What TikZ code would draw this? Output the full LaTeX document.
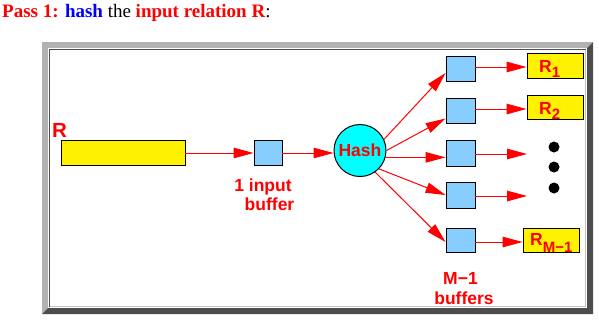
\documentclass[tikz,border=0pt]{standalone}
\usepackage{fontspec}
\setmainfont{Liberation Serif}
\setsansfont{Liberation Sans}
\usetikzlibrary{arrows.meta,calc}
\definecolor{bufblue}{RGB}{135,206,255}
\definecolor{hashcyan}{RGB}{0,255,255}
\definecolor{lgray}{RGB}{178,178,178}
\definecolor{dgray}{RGB}{77,77,77}
\tikzset{
  arr/.style={-{Triangle[length=20pt,width=10.5pt]}, red, line width=1pt},
  buf/.style={draw=black, line width=0.9pt, fill=bufblue, minimum width=29pt, minimum height=25pt, inner sep=0pt},
  outbox/.style={draw=black, line width=0.9pt, fill=yellow, minimum width=56pt, minimum height=25pt, inner sep=0pt},
  lbl/.style={text=red, font=\sffamily\bfseries\fontsize{17.5}{19}\selectfont, inner sep=0pt},
  dot/.style={circle, fill=black, minimum size=11pt, inner sep=0pt}
}
\begin{document}
\begin{tikzpicture}[x=1pt,y=-1pt]
\useasboundingbox (0,0) rectangle (599,322);
% title
\node[anchor=base west, inner sep=0pt, font=\fontsize{19}{21}\selectfont] (title) at (2,17)
  {\textcolor{red}{\textbf{Pass 1:}} \textcolor{blue}{\textbf{hash}} the \textcolor{red}{\textbf{input relation R}}:};
% frame
\fill[lgray] (42,42) -- (593,42) -- (587,48) -- (48,48) -- (48,308) -- (42,314) -- cycle;
\fill[dgray] (593,42) -- (593,314) -- (42,314) -- (48,308) -- (587,308) -- (587,48) -- cycle;
\fill[white] (48,48) rectangle (587,308);
\draw[dgray, line width=1pt] (49.5,306.5) -- (49.5,49.5) -- (585.5,49.5);
\draw[lgray!80, line width=1pt] (585.5,49.5) -- (585.5,306.5) -- (49.5,306.5);
% relation R
\node[lbl, font=\sffamily\bfseries\fontsize{20.5}{22}\selectfont, anchor=base west] (Rlab) at (52,137) {R};
\node[draw=black, line width=0.9pt, fill=yellow, minimum width=124pt, minimum height=25pt, inner sep=0pt] (rel) at (123,153) {};
\node[buf, minimum width=28pt] (inbuf) at (268,153) {};
\node[circle, draw=black, line width=1pt, fill=hashcyan, minimum size=52pt, inner sep=0pt, text=red, font=\sffamily\bfseries\fontsize{17.5}{19}\selectfont] (hash) at (360,150.5) {Hash};
% output buffers
\node[buf] (b1) at (460.5,69) {};
\node[buf] (b2) at (460.5,110.5) {};
\node[buf, minimum height=26pt] (b3) at (460.5,153) {};
\node[buf, minimum height=26pt] (b4) at (460.5,195) {};
\node[buf, minimum height=24pt] (b5) at (460.5,240) {};
% output partitions
\node[outbox] (r1) at (555,65.5) {};
\node[outbox, minimum height=24pt] (r2) at (555,107) {};
\node[outbox, minimum height=24pt] (rm) at (551,240) {};
\node[lbl, anchor=base west] (r1t) at (539,72) {R\raisebox{-5pt}{\fontsize{15}{15}\selectfont 1}};
\node[lbl, anchor=base west] (r2t) at (539,114) {R\raisebox{-5pt}{\fontsize{15}{15}\selectfont 2}};
\node[lbl, anchor=base west] (rmt) at (530,245) {R\raisebox{-7pt}{\fontsize{15}{15}\selectfont M{\char"2212}1}};
% dots
\node[dot] (d1) at (554,147) {};
\node[dot] (d2) at (554,167) {};
\node[dot] (d3) at (554,188) {};
\coordinate (e3) at (527,154);
\coordinate (e4) at (527,196);
% labels
\node[lbl, anchor=base] (l1) at (263,191) {1 input};
\node[lbl, anchor=base] (l2) at (269.5,210) {buffer};
\node[lbl, anchor=base] (l3) at (460.5,284) {M{\char"2212}1};
\node[lbl, anchor=base] (l4) at (464,304) {buffers};
% arrows
\draw[arr] (rel.east) -- (inbuf.west);
\draw[arr] (inbuf.east) -- (inbuf.east -| hash.west);
\draw[arr] (hash.25) -- ([yshift=-4pt]b1.west);
\draw[arr] (hash.0) -- ([yshift=-8pt]b2.west);
\draw[arr] (hash.-15) -- (hash.-15 -| b3.west);
\draw[arr] (hash.-44) -- (b4.west);
\draw[arr] (hash.-55) -- ([yshift=-2pt]b5.west);
\draw[arr] ([yshift=2pt]b1.east) -- ([yshift=2pt]b1.east -| r1.west);
\draw[arr] ([yshift=1.5pt]b2.east) -- ([yshift=1.5pt]b2.east -| r2.west);
\draw[arr] (b3.east |- e3) -- (e3);
\draw[arr] (b4.east |- e4) -- (e4);
\draw[arr] ([yshift=-2pt]b5.east) -- ([yshift=-2pt]b5.east -| rm.west);
\end{tikzpicture}
\end{document}
